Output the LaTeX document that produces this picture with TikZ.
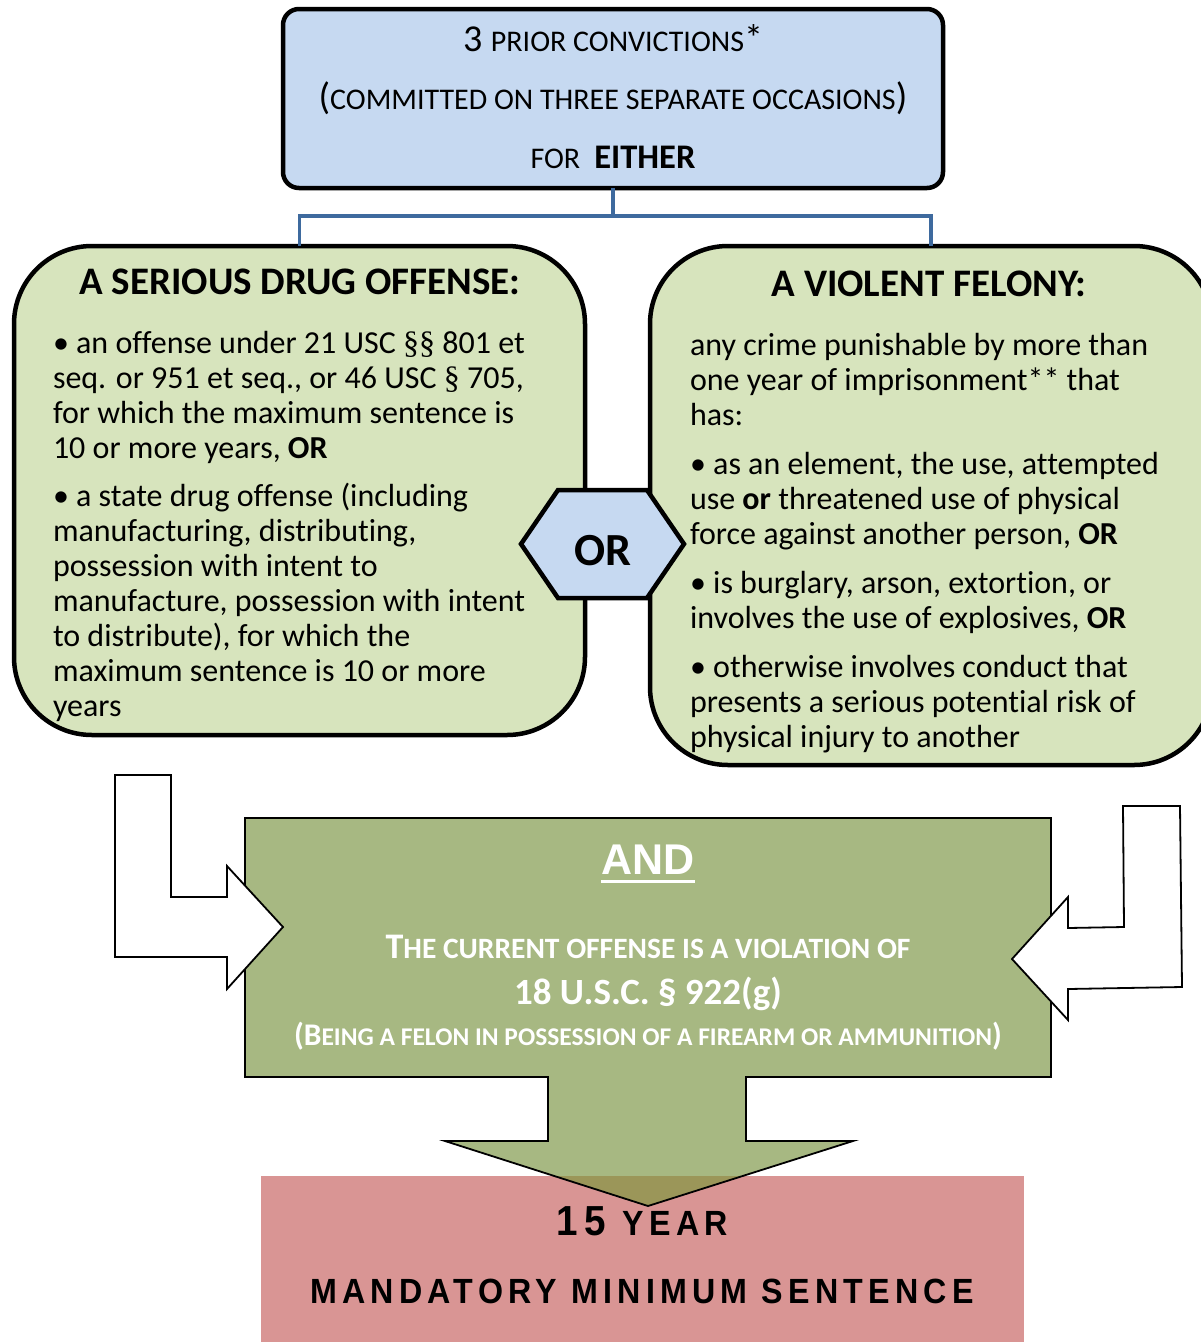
\documentclass[tikz,border=0pt]{standalone}
\usepackage{fontspec}
\setmainfont{Carlito}[Ligatures=NoCommon]
\newfontfamily\serifsec{Liberation Serif}
\newfontfamily\arialfont{Liberation Sans}
\newfontfamily\narrowbold[FakeStretch=0.92,LetterSpace=15]{Liberation Sans Bold}
\newcommand\fsz[2]{\fontsize{#1}{#2}\selectfont}
\newcommand\sz[2]{{\fontsize{#1}{#1}\selectfont #2}}
\definecolor{topblue}{HTML}{C6D9F1}
\definecolor{linkblue}{HTML}{3E6A9E}
\definecolor{palegreen}{HTML}{D7E4BD}
\definecolor{andgreen}{HTML}{A7B882}
\definecolor{sentpink}{HTML}{D99594}
\definecolor{overlapc}{HTML}{9B9659}
\begin{document}
\begin{tikzpicture}[x=1pt,y=-1pt,
  every node/.style={inner sep=0pt, outer sep=0pt},
  thickbox/.style={draw=black, line width=4.5pt},
  txt/.style={anchor=base, inner sep=0pt},
  body/.style={anchor=base west, inner sep=0pt},
  link/.style={draw=linkblue, line width=3.5pt},
  thinline/.style={draw=black, line width=1.8pt}]
\useasboundingbox (0,0) rectangle (1201,1342);
\fill[white] (0,0) rectangle (1201,1342);

% top box
\node[thickbox, fill=topblue, rounded corners=16pt, minimum width=660pt, minimum height=179pt] (top) at (613,98.5) {};
\node[txt] (t1) at (613,51) {\sz{38}{3 }\sz{30}{PRIOR CONVICTIONS}\sz{38}{*}};
\node[txt] (t2) at (613,109) {\sz{38}{(}\sz{30}{COMMITTED ON THREE SEPARATE OCCASIONS}\sz{38}{)}};
\node[txt] (t3) at (613,168) {\sz{30}{FOR}\hspace{14pt}\sz{34.5}{\bfseries EITHER}};

% left and right boxes
\node[thickbox, fill=palegreen, rounded corners=78pt, minimum width=571pt, minimum height=489pt] (drug) at (299.5,490.5) {};
\node[thickbox, fill=palegreen, rounded corners=78pt, minimum width=562pt, minimum height=519pt] (violent) at (931,505.5) {};

% connectors
\draw[link] (top.south) -- ++(0,28) coordinate (split) -| (drug.north);
\draw[link] (split) -| (violent.north);

% titles
\node[txt] (dtitle) at (300,294) {\bfseries\fsz{39}{39}A SERIOUS DRUG OFFENSE:};
\node[txt] (vtitle) at (929,296) {\bfseries\fsz{39}{39}A VIOLENT FELONY:};

% left body
\node[body] (dbody) at (53,353) {\parbox[t]{540pt}{\fsz{32}{35}\raggedright
\textbullet{} an offense under 21 USC {\serifsec §§} 801 et\\
seq. or 951 et seq., or 46 USC {\serifsec §} 705,\\
for which the maximum sentence is\\
10 or more years, \textbf{OR}\par\vspace{13pt}
\textbullet{} a state drug offense (including\\
manufacturing, distributing,\\
possession with intent to\\
manufacture, possession with intent\\
to distribute), for which the\\
maximum sentence is 10 or more\\
years}};

% right body
\node[body] (vbody) at (690,355) {\parbox[t]{540pt}{\fsz{32}{35}\raggedright
any crime punishable by more than\\
one year of imprisonment** that\\
has:\par\vspace{14pt}
\textbullet{} as an element, the use, attempted\\
use \textbf{or} threatened use of physical\\
force against another person, \textbf{OR}\par\vspace{14pt}
\textbullet{} is burglary, arson, extortion, or\\
involves the use of explosives, \textbf{OR}\par\vspace{14pt}
\textbullet{} otherwise involves conduct that\\
presents a serious potential risk of\\
physical injury to another}};

% OR hexagon
\draw[thickbox, fill=topblue, line join=miter] (521,544) -- (558,490) -- (647,490) -- (684,544) -- (647,598) -- (558,598) -- cycle;
\node[txt] (ortext) at (603,565) {\bfseries\fsz{46}{46}OR};

% green AND shape with down arrow
\draw[thinline, fill=andgreen] (245,818) -- (1051,818) -- (1051,1077) -- (746,1077) -- (746,1141) -- (853,1141) -- (648,1206) -- (445,1141) -- (548,1141) -- (548,1077) -- (245,1077) -- cycle;

% white bent arrows
\draw[thinline, fill=white] (115,775) -- (171,775) -- (171,897) -- (227,897) -- (227,866) -- (283,927) -- (227,989) -- (227,957) -- (115,957) -- cycle;
\draw[thinline, fill=white] (1123,806) -- (1180,806) -- (1182,987) -- (1068,989) -- (1068,1020) -- (1012,959) -- (1068,897) -- (1068,928) -- (1124,927) -- cycle;

% green texts
\node[txt, text=white] (and) at (648,874) {\arialfont\bfseries\fsz{43}{43}AND};
\draw[white, line width=3pt] ([yshift=-7pt]and.base west) -- ([yshift=-7pt]and.base east);
\node[txt, text=white] (cur) at (648,958) {\bfseries\sz{36}{T}\sz{29.5}{HE CURRENT OFFENSE IS A VIOLATION OF}};
\node[txt, text=white] (usc) at (648,1004) {\bfseries\fsz{37}{37}18 U.S.C. § 922(g)};
\node[txt, text=white] (being) at (648,1045) {\bfseries\sz{31.5}{(B}\sz{25.5}{EING A FELON IN POSSESSION OF A FIREARM OR AMMUNITION}\sz{31.5}{)}};

% pink sentence box
\fill[sentpink] (261,1176) rectangle (1024,1342);
\begin{scope}
\clip (261,1176) rectangle (1024,1342);
\draw[thinline, fill=overlapc] (445,1141) -- (648,1206) -- (853,1141) -- cycle;
\end{scope}
\node[txt] (yr) at (642,1235) {\narrowbold\sz{42}{15 }\sz{35}{YEAR}};
\node[txt] (mms) at (642,1303) {\narrowbold\fsz{35}{35}MANDATORY MINIMUM SENTENCE};
\end{tikzpicture}
\end{document}
